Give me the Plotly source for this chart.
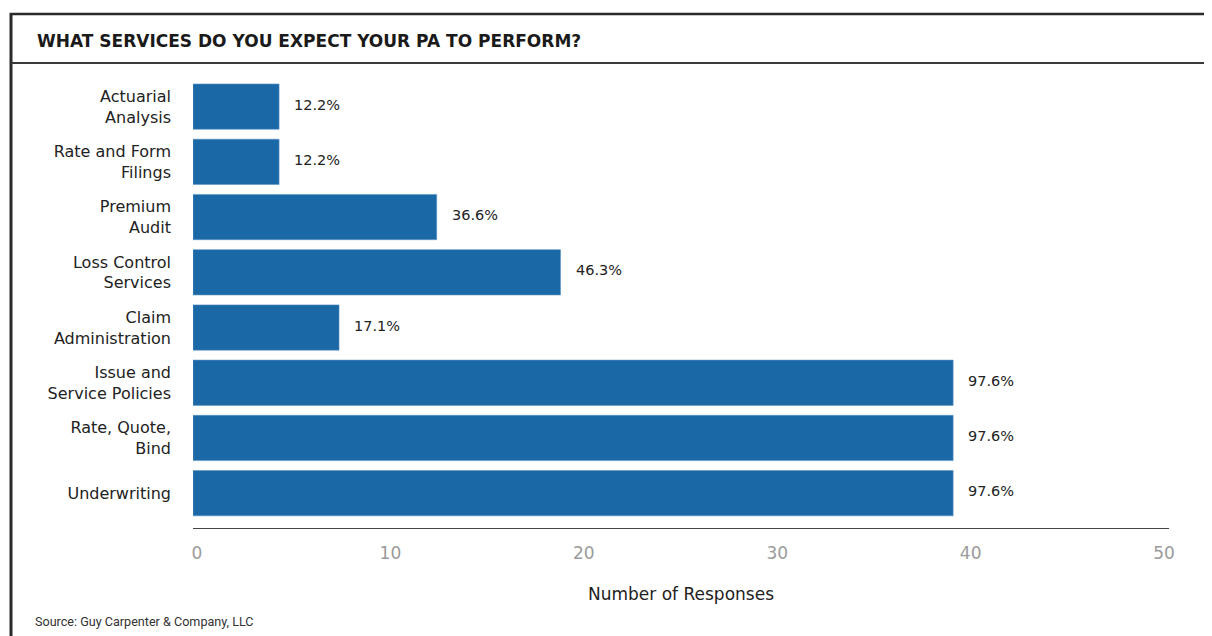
import plotly.graph_objects as go

categories = ["Underwriting", "Rate, Quote,<br>Bind", "Issue and<br>Service Policies",
              "Claim<br>Administration", "Loss Control<br>Services", "Premium<br>Audit",
              "Rate and Form<br>Filings", "Actuarial<br>Analysis"]
responses = [39.3, 39.3, 39.3, 7.55, 19.0, 12.6, 4.45, 4.45]
pct_labels = ["97.6%", "97.6%", "97.6%", "17.1%", "46.3%", "36.6%", "12.2%", "12.2%"]
x_ticks = [0, 10, 20, 30, 40, 50]

OFF = 8  # page body margin
W, H = 1212 - OFF, 636 - OFF
# plot area in window pixels: x 193..1169, y 79..528
L, R, T, B = 193 - OFF, 1212 - 1169, 79 - OFF, 636 - 528
pw, ph = W - L - R, H - T - B

def px(x):
    return (x - OFF - L) / pw

def py(y):
    return 1 - (y - OFF - T) / ph

FONT = "DejaVu Sans, Verdana, sans-serif"

fig = go.Figure()
fig.add_trace(go.Bar(
    y=categories, x=responses, orientation="h",
    marker=dict(color="#1b68a6", line=dict(color="#5a93c6", width=0.6)),
    width=0.82, hoverinfo="skip",
))

annotations = []
for c, v, t in zip(categories, responses, pct_labels):
    annotations.append(dict(x=v, y=c, xref="x", yref="y", text=t, showarrow=False,
                            xanchor="left", xshift=13, yshift=2,
                            font=dict(family=FONT, size=14.5, color="#222")))

annotations.append(dict(x=px(35), y=py(41), xref="paper", yref="paper",
                        text="<b>WHAT SERVICES DO YOU EXPECT YOUR PA TO PERFORM?</b>",
                        showarrow=False, xanchor="left", yanchor="middle",
                        font=dict(family=FONT, size=17, color="#1a1a1a")))
annotations.append(dict(x=px(33), y=py(621), xref="paper", yref="paper",
                        text="Source: Guy Carpenter &amp; Company, LLC",
                        showarrow=False, xanchor="left", yanchor="middle",
                        font=dict(family="Liberation Sans Narrow, Roboto, sans-serif", size=12.6, color="#333")))

shapes = [
    dict(type="line", xref="paper", yref="paper", x0=px(11), x1=px(11), y0=py(13), y1=py(640),
         line=dict(color="#2a2a2a", width=3)),
    dict(type="line", xref="paper", yref="paper", x0=px(10), x1=px(1215), y0=py(14), y1=py(14),
         line=dict(color="#2a2a2a", width=2.5)),
    dict(type="line", xref="paper", yref="paper", x0=px(11), x1=px(1215), y0=py(63), y1=py(63),
         line=dict(color="#3a3a3a", width=1.8)),
]

fig.update_layout(
    width=W, height=H,
    margin=dict(l=L, r=R, t=T, b=B),
    paper_bgcolor="white", plot_bgcolor="white",
    showlegend=False,
    annotations=annotations, shapes=shapes,
    xaxis=dict(range=[0, 50.46], tickvals=x_ticks, showgrid=False, zeroline=False,
               showline=True, linecolor="#444", linewidth=1.2,
               tickfont=dict(family=FONT, size=17, color="#9a9a9a"), ticks="",
               ticklabelstandoff=9, ticklabelshift=4,
               title=dict(text="Number of Responses", standoff=26,
                          font=dict(family=FONT, size=17, color="#222"))),
    yaxis=dict(range=[-0.63, 7.5], showgrid=False, zeroline=False, showline=False, ticks="",
               ticklabelstandoff=21,
               tickfont=dict(family=FONT, size=16, color="#222")),
)

fig.write_html("out.html")
